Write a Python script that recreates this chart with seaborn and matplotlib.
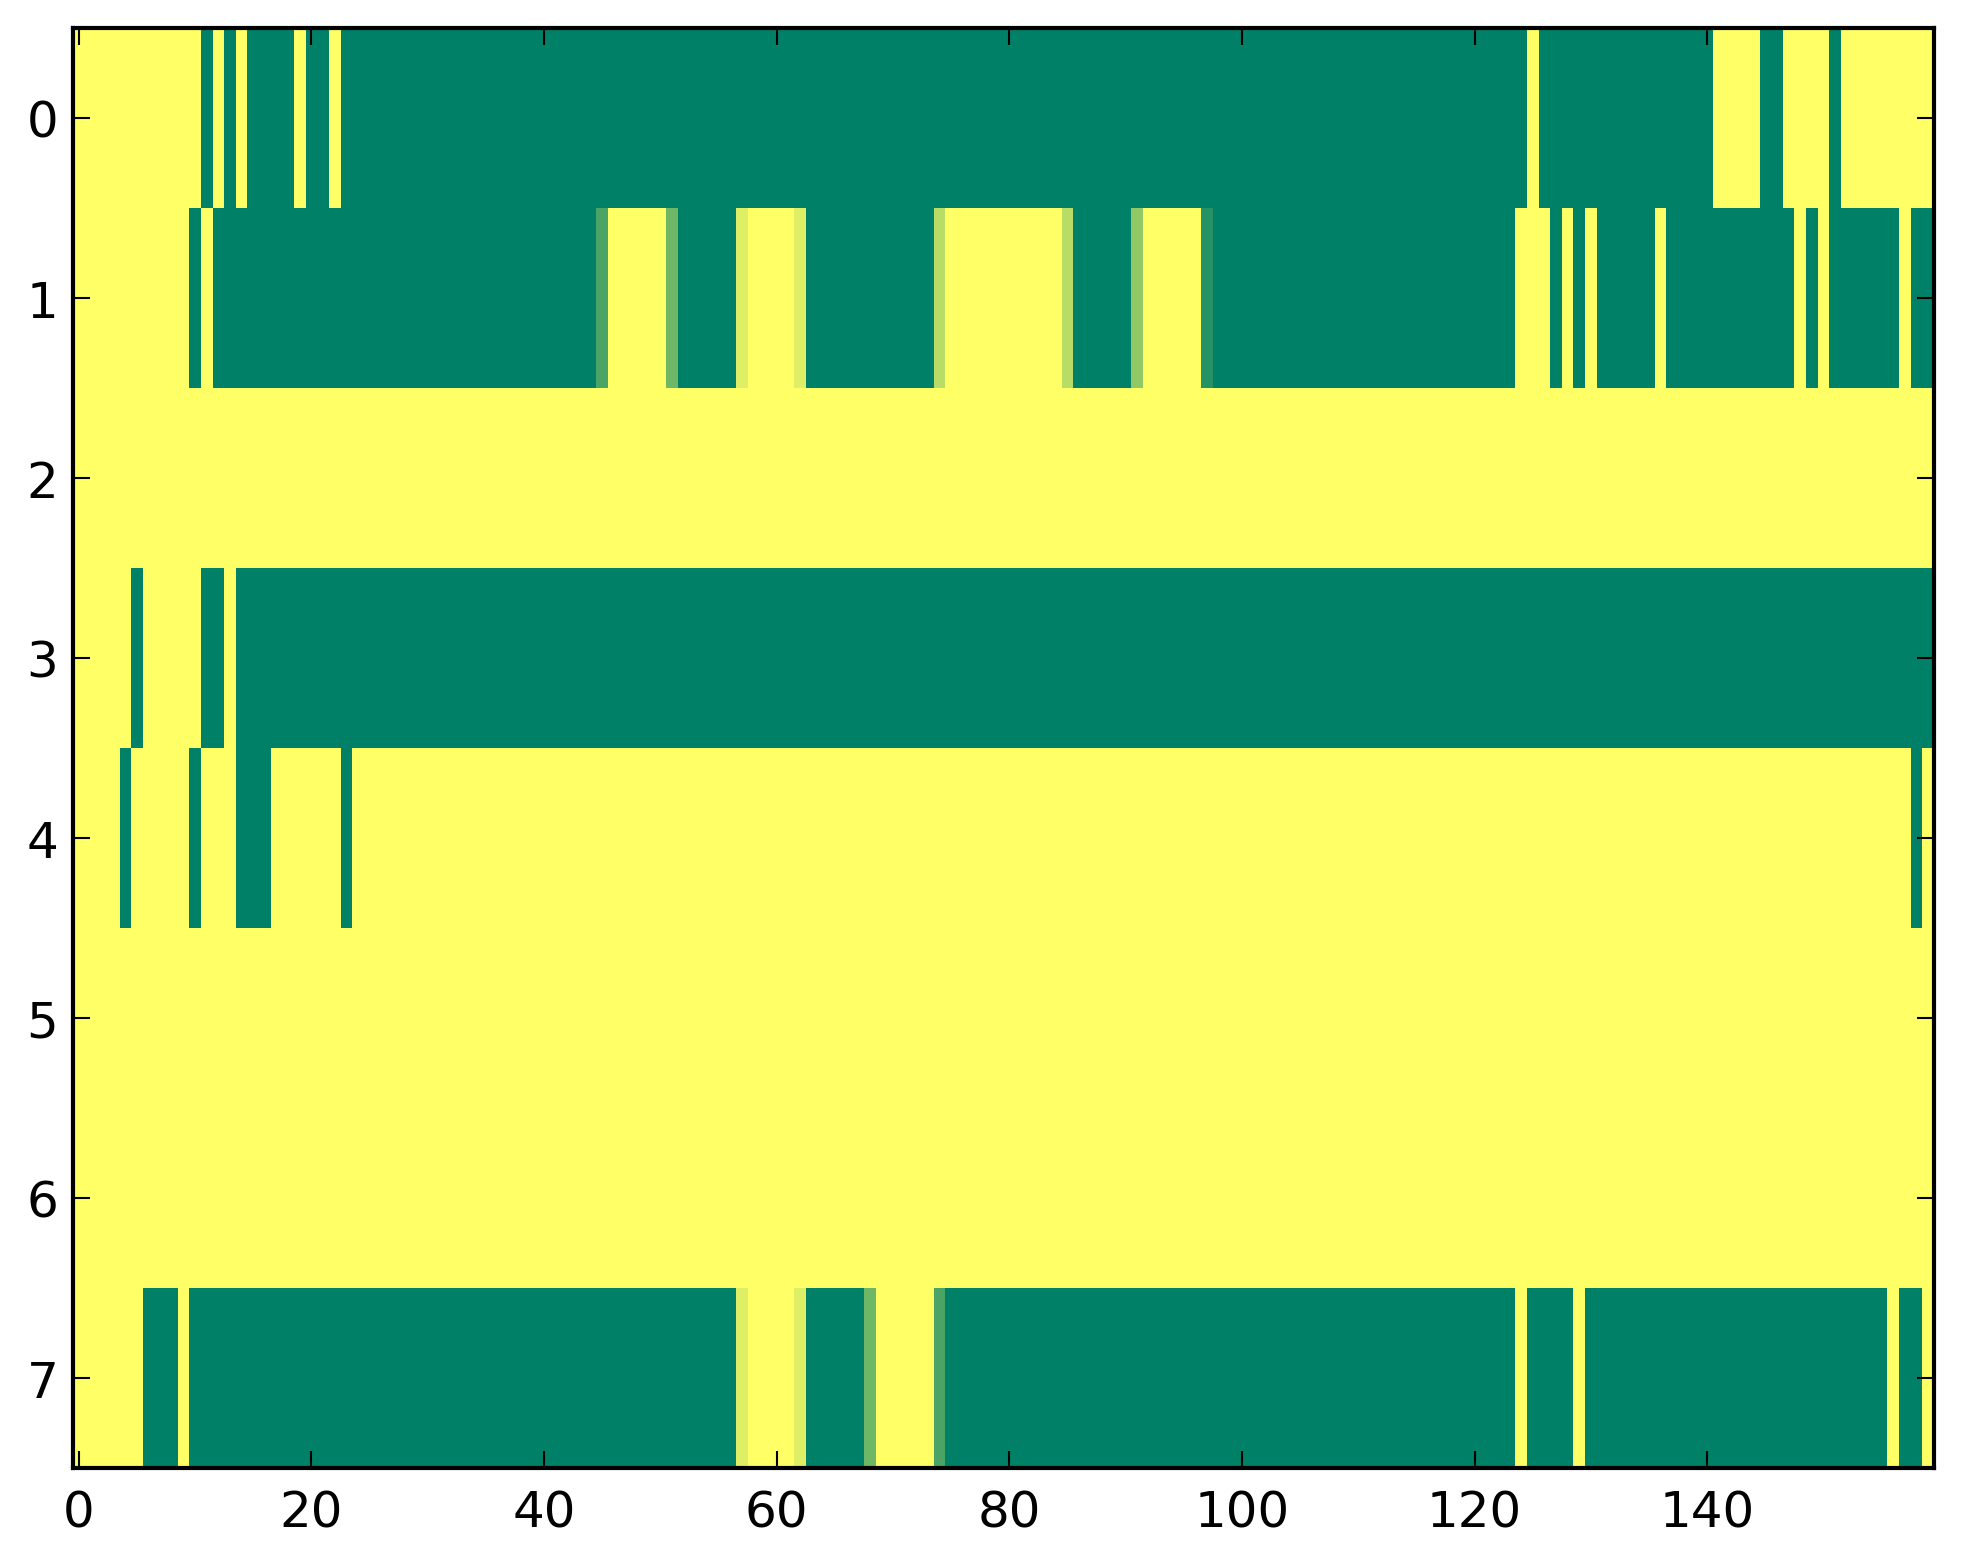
import numpy as np
import pandas as pd
import matplotlib
matplotlib.use('Agg')
import matplotlib.pyplot as plt
import seaborn as sns

# valores por fila, como (valor, cantidad de columnas seguidas)
row0 = [(1, 11), (0, 1), (1, 1), (0, 1), (1, 1), (0, 4), (1, 1), (0, 2), (1, 1),
        (0, 102), (1, 1), (0, 15), (1, 4), (0, 2), (1, 4), (0, 1), (1, 8)]
row1 = [(1, 10), (0, 1), (1, 1), (0, 33), (0.29, 1), (1, 5), (0.43, 1), (0, 5),
        (0.87, 1), (1, 4), (0.87, 1), (0, 11), (0.72, 1), (1, 10), (0.72, 1),
        (0, 5), (0.565, 1), (1, 5), (0.145, 1), (0, 26), (1, 3), (0, 1), (1, 1),
        (0, 1), (1, 1), (0, 5), (1, 1), (0, 11), (1, 1), (0, 1), (1, 1), (0, 6),
        (1, 1), (0, 2)]
row2 = [(1, 160)]
row3 = [(1, 5), (0, 1), (1, 5), (0, 2), (1, 1), (0, 146)]
row4 = [(1, 4), (0, 1), (1, 5), (0, 1), (1, 3), (0, 3), (1, 6), (0, 1), (1, 134),
        (0, 1), (1, 1)]
row5 = [(1, 160)]
row6 = [(1, 160)]
row7 = [(1, 6), (0, 3), (1, 1), (0, 47), (0.87, 1), (1, 4), (0.87, 1), (0, 5),
        (0.43, 1), (1, 5), (0.29, 1), (0, 49), (1, 1), (0, 4), (1, 1), (0, 26),
        (1, 1), (0, 2), (1, 1)]

rows = [row0, row1, row2, row3, row4, row5, row6, row7]
xtick_labels = [0, 20, 40, 60, 80, 100, 120, 140]
ytick_labels = [0, 1, 2, 3, 4, 5, 6, 7]


def expand(runs):
    vals = []
    for v, n in runs:
        vals += [v] * n
    return vals


data = pd.DataFrame([expand(r) for r in rows])

W, H, DPI = 1963, 1564, 300
fig = plt.figure(figsize=(W / DPI, H / DPI), dpi=DPI)
ax = fig.add_axes([73 / W, 95 / H, 1861 / W, 1440 / H])

sns.heatmap(data, cmap='summer', vmin=0, vmax=1, cbar=False, ax=ax,
            xticklabels=False, yticklabels=False)

ax.set_xticks(np.array(xtick_labels) + 0.5)
ax.set_xticklabels([str(t) for t in xtick_labels], rotation=0)
ax.set_yticks(np.array(ytick_labels) + 0.5)
ax.set_yticklabels([str(t) for t in ytick_labels], rotation=0)

for side in ['left', 'right', 'top', 'bottom']:
    ax.spines[side].set_visible(True)
    ax.spines[side].set_color('black')
    ax.spines[side].set_linewidth(1.0)

ax.tick_params(direction='in', top=True, right=True, length=4, width=0.5,
               labelsize=12, colors='black')
ax.tick_params(axis='x', pad=5)
ax.tick_params(axis='y', pad=3.5)
for lab in ax.get_xticklabels() + ax.get_yticklabels():
    lab.set_family('DejaVu Sans')

fig.savefig('out.png', dpi=DPI)
plt.close()
